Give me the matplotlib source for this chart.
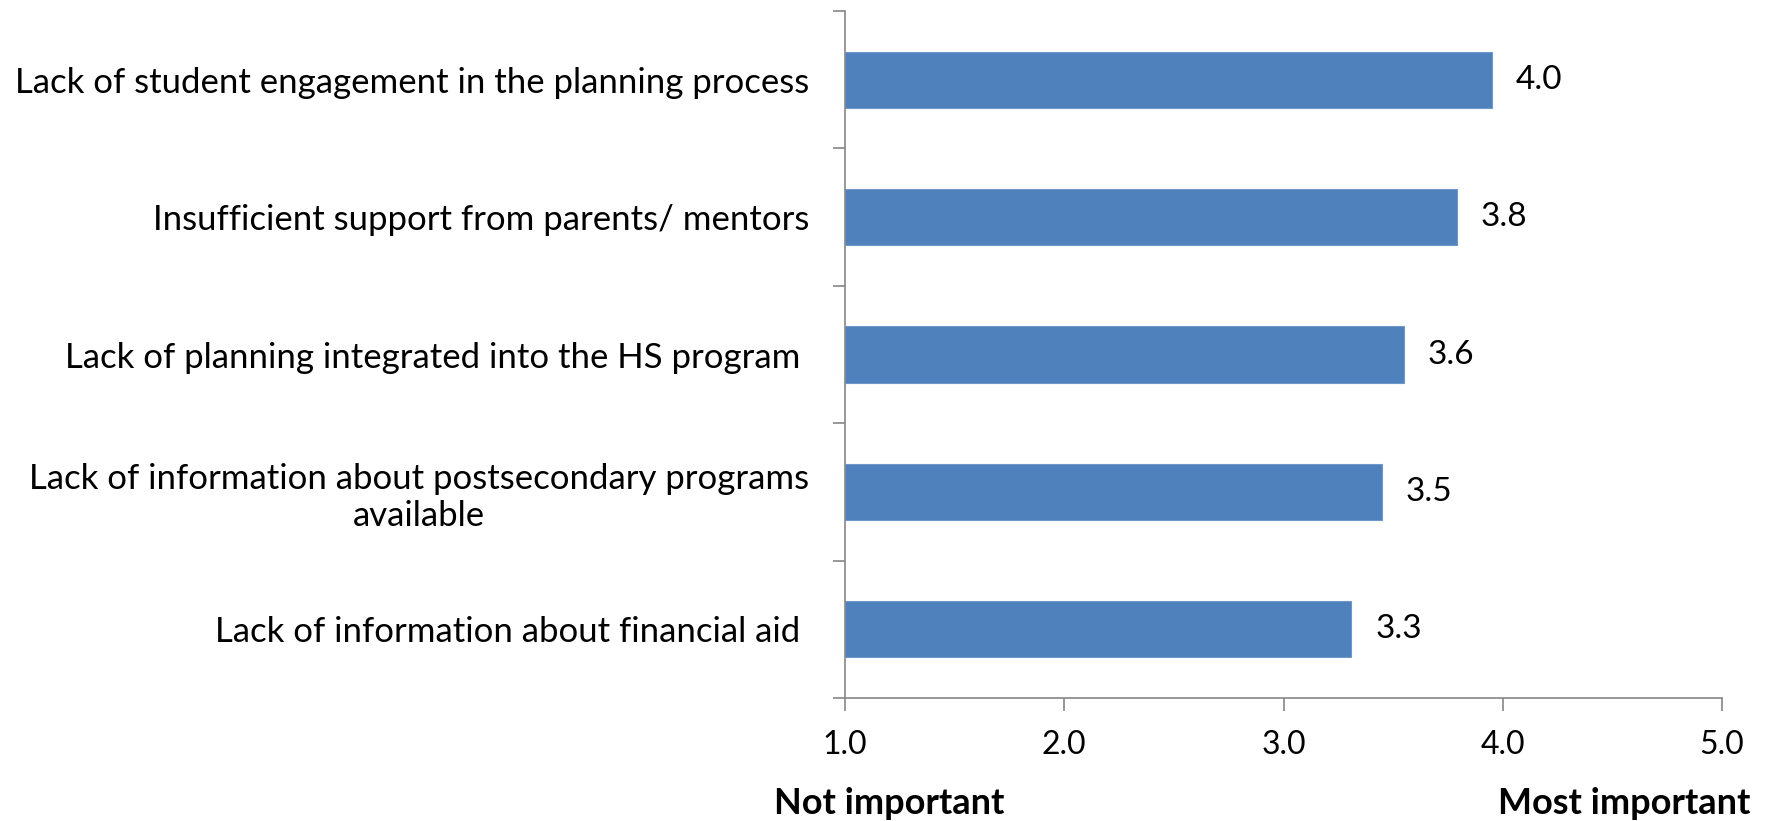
import matplotlib
matplotlib.use("Agg")
import matplotlib.pyplot as plt
import numpy as np

categories = [
    "Lack of student engagement in the planning process",
    "Insufficient support from parents/ mentors",
    "Lack of planning integrated into the HS program ",
    "Lack of information about postsecondary programs\navailable",
    "Lack of information about financial aid ",
]
values = [3.95, 3.79, 3.55, 3.45, 3.31]
value_labels = ["4.0", "3.8", "3.6", "3.5", "3.3"]
x_ticks = [1.0, 2.0, 3.0, 4.0, 5.0]
x_tick_labels = ["1.0", "2.0", "3.0", "4.0", "5.0"]
low_label = "Not important"
high_label = "Most important"

plt.rcParams['font.family'] = ['Lato', 'DejaVu Sans']

fig = plt.figure(figsize=(17.71, 8.21), dpi=100)
ax = fig.add_axes([845/1771, 1 - 698/821, (1722 - 845)/1771, (698 - 11)/821])

y = np.arange(len(categories))
base = 1.0
ax.barh(y, np.array(values) - base, left=base, height=0.41, color="#4F81BD",
        edgecolor="#6F97C9", linewidth=0.8)

for yi, v, lab in zip(y, values, value_labels):
    ax.annotate(lab, (v, yi), xytext=(17, 0), textcoords="offset points",
                ha="left", va="center", fontsize=24, color="black")

ax.set_xlim(1.0, 5.0)
ax.set_ylim(len(categories) - 0.5, -0.5)
ax.set_xticks(x_ticks)
ax.set_xticklabels(x_tick_labels, fontsize=23)

ax.set_yticks(y)
ax.set_yticklabels(categories, fontsize=25, multialignment="center")
ax.tick_params(axis="y", length=0, pad=26)
ax.set_yticks(np.arange(-0.5, len(categories) + 0.5, 1.0), minor=True)
ax.tick_params(axis="y", which="minor", length=9, width=1.2, color="#868686")
ax.tick_params(axis="x", length=9, width=1.2, color="#868686", pad=14)

for s in ["top", "right"]:
    ax.spines[s].set_visible(False)
for s in ["left", "bottom"]:
    ax.spines[s].set_color("#868686")
    ax.spines[s].set_linewidth(1.2)

fig.text(774/1771, 1 - 803/821, low_label, fontsize=26, fontweight="bold",
         ha="left", va="center")
fig.text(1750/1771, 1 - 803/821, high_label, fontsize=26, fontweight="bold",
         ha="right", va="center")

fig.savefig("out.png", dpi=100, facecolor="white")
